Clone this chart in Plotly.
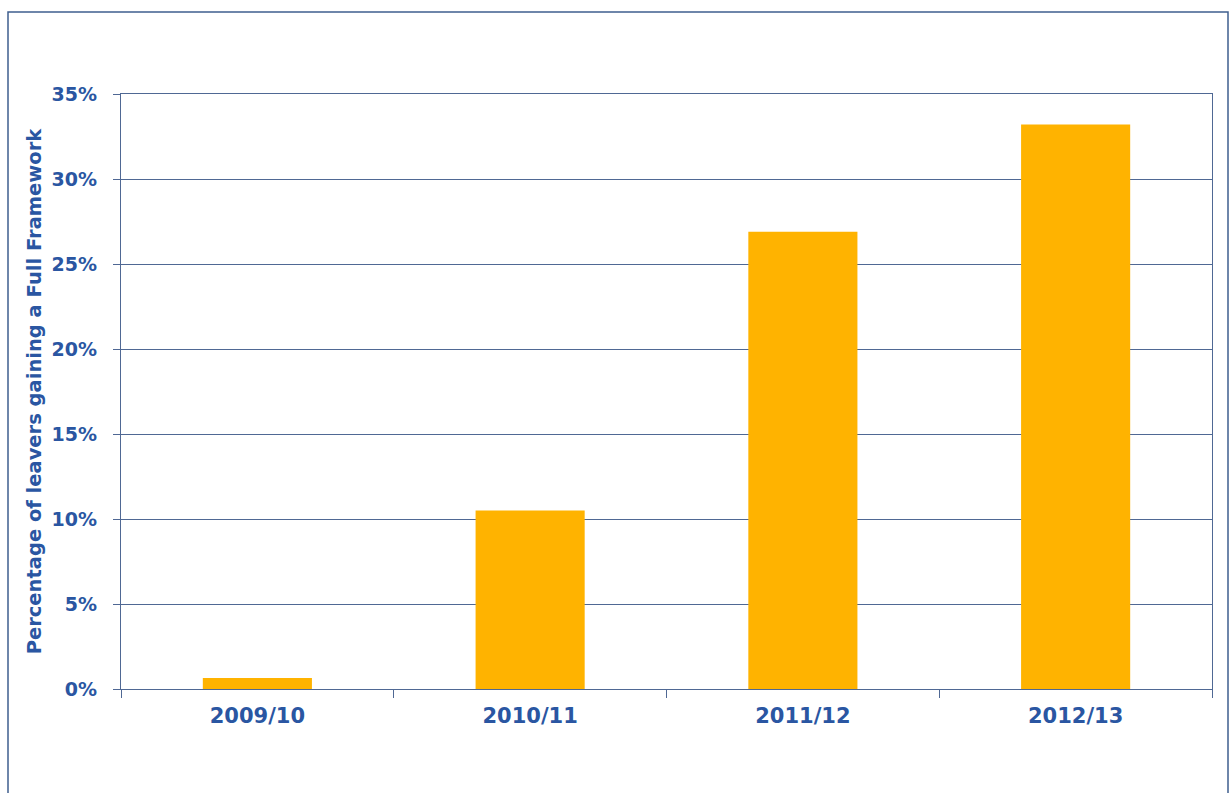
import plotly.graph_objects as go

# Share of leavers gaining a Full Framework, by academic year
years = ["2009/10", "2010/11", "2011/12", "2012/13"]
share_pct = [0.65, 10.5, 26.9, 33.2]

y_ticks = [0, 5, 10, 15, 20, 25, 30, 35]
y_tick_labels = ["0%", "5%", "10%", "15%", "20%", "25%", "30%", "35%"]

text_blue = "#2a56a2"
line_blue = "#4f6894"
bar_color = "#ffb300"

W, H = 1229, 793
L, R, T, B = 121, 17, 94, 104

fig = go.Figure(
    go.Bar(
        x=years,
        y=share_pct,
        marker=dict(color=bar_color, line=dict(width=0)),
        width=0.4,
    )
)

plot_w = W - L - R
plot_h = H - T - B

fig.update_layout(
    width=W,
    height=H,
    margin=dict(l=L, r=R, t=T, b=B),
    paper_bgcolor="white",
    plot_bgcolor="white",
    showlegend=False,
    xaxis=dict(
        type="category",
        tickson="boundaries",
        ticks="outside",
        ticklen=8,
        tickcolor=line_blue,
        showline=True,
        linecolor=line_blue,
        linewidth=1.3,
        mirror=True,
        showgrid=False,
        ticklabelstandoff=8,
        tickfont=dict(family="DejaVu Sans", size=21, color=text_blue, weight="bold"),
    ),
    yaxis=dict(
        range=[0, 35],
        tickvals=y_ticks,
        ticktext=y_tick_labels,
        ticks="outside",
        ticklen=7,
        tickcolor=line_blue,
        showline=True,
        linecolor=line_blue,
        linewidth=1.3,
        mirror=True,
        showgrid=True,
        gridcolor=line_blue,
        gridwidth=1.1,
        zeroline=False,
        ticklabelstandoff=12,
        tickfont=dict(family="DejaVu Sans", size=19, color=text_blue, weight="bold"),
        title=dict(
            text="Percentage of leavers gaining a Full Framework",
            font=dict(family="DejaVu Sans", size=19.5, color=text_blue, weight="bold"),
            standoff=4,
        ),
    ),
    shapes=[
        # outer frame around the chart
        dict(
            type="rect",
            xref="paper",
            yref="paper",
            x0=(8 - L) / plot_w,
            x1=(1228 - L) / plot_w,
            y0=-(B + 20) / plot_h,
            y1=(H - B - 12) / plot_h,
            line=dict(color="#3f5f8f", width=1.5),
            fillcolor="rgba(0,0,0,0)",
            layer="below",
        )
    ],
)

fig.write_html("out.html")
